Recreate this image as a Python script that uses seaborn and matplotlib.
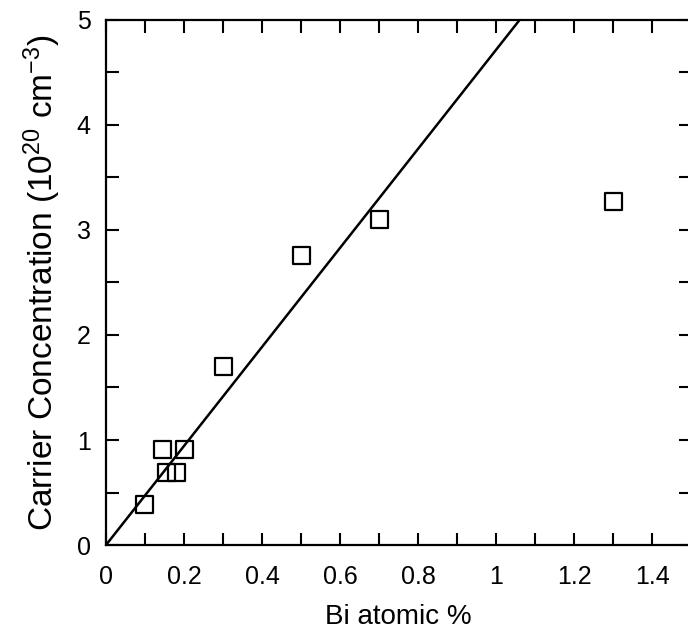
import matplotlib
matplotlib.use("Agg")
import matplotlib.pyplot as plt
import seaborn as sns
import pandas as pd
from matplotlib.ticker import MultipleLocator

# measured points (Bi atomic %, carrier concentration in 1e20 cm^-3)
bi_pct = [0.10, 0.145, 0.155, 0.18, 0.20, 0.30, 0.50, 0.70, 1.30]
carrier = [0.39, 0.91, 0.69, 0.69, 0.91, 1.70, 2.76, 3.10, 3.27]

# straight guide line
fit_x = [0.0, 1.06]
fit_y = [0.0, 5.0]

x_ticks = [0, 0.2, 0.4, 0.6, 0.8, 1.0, 1.2, 1.4]
x_tick_labels = ['0', '0.2', '0.4', '0.6', '0.8', '1', '1.2', '1.4']

sns.set_style("ticks", {'axes.edgecolor': 'black', 'text.color': 'black',
                        'axes.labelcolor': 'black', 'xtick.color': 'black',
                        'ytick.color': 'black'})
plt.rcParams['font.family'] = ['Liberation Sans', 'DejaVu Sans']
plt.rcParams['mathtext.default'] = 'regular'

df = pd.DataFrame({'x': bi_pct, 'y': carrier})

fig = plt.figure(figsize=(6.88, 6.39), dpi=100)
ax = fig.add_axes([0.154, 0.147, 0.851, 0.822])

sns.lineplot(x=fit_x, y=fit_y, ax=ax, color='black', linewidth=1.8)
sns.scatterplot(data=df, x='x', y='y', ax=ax, marker='s', s=150,
                facecolor='none', edgecolor='black', linewidth=1.6, zorder=3)

ax.set_xlim(0, 1.5)
ax.set_ylim(0, 5)
ax.xaxis.set_minor_locator(MultipleLocator(0.1))
ax.yaxis.set_major_locator(MultipleLocator(1))
ax.yaxis.set_minor_locator(MultipleLocator(0.5))
ax.set_xticks(x_ticks)
ax.set_xticklabels(x_tick_labels)
ax.tick_params(which='both', direction='in', top=True, right=True,
               width=1.5, length=9, labelsize=18, color='black', labelcolor='black')
ax.tick_params(axis='x', which='major', pad=14)
ax.tick_params(axis='y', which='major', pad=11)
for s in ax.spines.values():
    s.set_linewidth(1.6)
    s.set_color('black')

ax.set_xlabel('Bi atomic %', fontsize=20, labelpad=11, color='black')
ax.set_ylabel('Carrier Concentration (10$^{20}$ cm$^{-3}$)', fontsize=24,
              labelpad=10, color='black')

fig.savefig('out.png', dpi=100)
